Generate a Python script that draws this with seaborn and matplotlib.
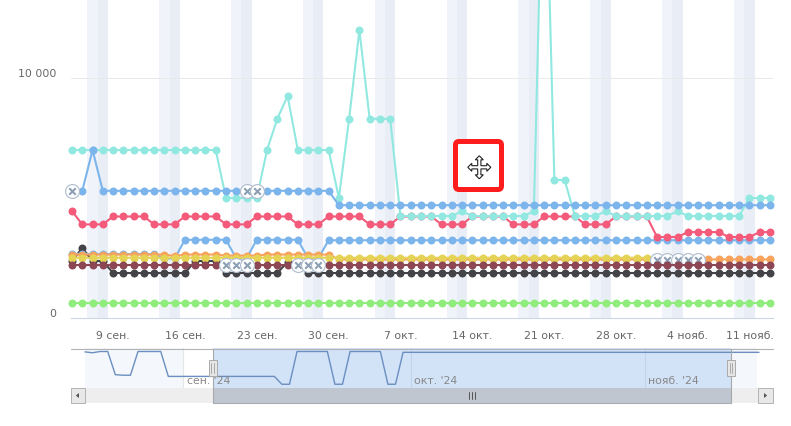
import numpy as np
import matplotlib
matplotlib.use("Agg")
import matplotlib.pyplot as plt
from matplotlib.patches import FancyBboxPatch, Polygon, Rectangle
from matplotlib.transforms import ScaledTranslation
import seaborn as sns

nan = float("nan")

# Daily values, 5 Sep (day 0) to 12 Nov (day 68)
teal = [7000, 7000, 7000, 7000, 7000, 7000, 7000, 7000, 7000, 7000, 7000, 7000, 7000, 7000, 7000,
        5000, 5000, 5000, 5000, 7000, 8300, 9250, 7000, 7000, 7000, 7000, 5000, 8300, 12000,
        8300, 8300, 8300, 4250, 4250, 4250, 4250, 4250, 4250, 4450, 4250, 4250, 4250, 4250, 4250, 4250,
        4450, 22000, 5750, 5750, 4250, 4250, 4250, 4450, 4250, 4250, 4250, 4250, 4250, 4250,
        4450, 4250, 4250, 4250, 4250, 4250, 4250, 5000, 5000, 5000]
blue_top = [5300, 5300, 7000, 5300, 5300, 5300, 5300, 5300, 5300, 5300, 5300, 5300, 5300, 5300, 5300,
            5300, 5300, 5300, 5300, 5300, 5300, 5300, 5300, 5300, 5300, 5300, 4700, 4700, 4700,
            4700, 4700, 4700, 4700, 4700, 4700, 4700, 4700, 4700, 4700, 4700, 4700, 4700, 4700, 4700, 4700,
            4700, 4700, 4700, 4700, 4700, 4700, 4700, 4700, 4700, 4700, 4700, 4700, 4700, 4700,
            4700, 4700, 4700, 4700, 4700, 4700, 4700, 4700, 4700, 4700]
red = [4450, 3900, 3900, 3900, 4230, 4230, 4230, 4230, 3900, 3900, 3900, 4230, 4230, 4230, 4230,
       3900, 3900, 3900, 4230, 4230, 4230, 4230, 3900, 3900, 3900, 4230, 4230, 4230, 4230,
       3900, 3900, 3900, 4230, 4230, 4230, 4230, 3900, 3900, 3900, 4230, 4230, 4230, 4230, 3900, 3900,
       3900, 4230, 4230, 4230, 4230, 3900, 3900, 3900, 4230, 4230, 4230, 4230, 3375, 3375,
       3375, 3580, 3580, 3580, 3580, 3375, 3375, 3375, 3580, 3580]
blue_mid = [2667, 2667, 2667, 2667, 2667, 2667, 2667, 2667, 2667, 2480, 2480, 3260, 3260, 3260, 3260,
            3260, 2480, 2480, 3260, 3260, 3260, 3260, 3260, 2480, 2480, 3240, 3240, 3240, 3240,
            3240, 3240, 3240, 3240, 3240, 3240, 3240, 3240, 3240, 3240, 3240, 3240, 3240, 3240, 3240, 3240,
            3240, 3240, 3240, 3240, 3240, 3240, 3240, 3240, 3240, 3240, 3240, 3240, 3240, 3240,
            3240, 3240, 3240, 3240, 3240, 3240, 3240, 3240, 3240, 3240]
orange = [2645, 2645, 2645, 2645, 2645, 2645, 2645, 2645, 2645, 2645, 2580, 2645, 2645, 2645, 2645,
          2600, 2600, 2600, 2600, 2645, 2645, 2645, 2645, 2645, 2645, 2645, 2440, 2440, 2440,
          2440, 2440, 2440, 2440, 2440, 2440, 2440, 2440, 2440, 2440, 2440, 2440, 2440, 2440, 2440, 2440,
          2440, 2440, 2440, 2440, 2440, 2440, 2440, 2440, 2440, 2440, 2440, 2440, 2440, 2440,
          2440, 2440, 2440, 2440, 2440, 2440, 2440, 2440, 2440, 2440]
yellow = [2510, 2510, 2510, 2510, 2510, 2510, 2510, 2510, 2510, 2510, 2510, 2510, 2510, 2510, 2510,
          2510, 2510, 2510, 2510, 2510, 2510, 2510, 2510, 2510, 2510, 2510, 2510, 2510, 2510,
          2510, 2510, 2510, 2510, 2510, 2510, 2510, 2510, 2510, 2510, 2510, 2510, 2510, 2510, 2510, 2510,
          2510, 2510, 2510, 2510, 2510, 2510, 2510, 2510, 2510, 2510, 2510, 2510, 2420, 2420,
          2420, 2420, 2420, nan, nan, nan, nan, nan, nan, nan]
maroon = [2210] * 69
dark = [2375, 2917, 2375, 2375, 1875, 1875, 1875, 1875, 1875, 1875, 1875, 1875, 2375, 2375, 2375,
        1875, 1875, 1875, 1875, 1875, 1875, 2333, 2333, 1875, 1875, 1875, 1875, 1875, 1875,
        1875, 1875, 1875, 1875, 1875, 1875, 1875, 1875, 1875, 1875, 1875, 1875, 1875, 1875, 1875, 1875,
        1875, 1875, 1875, 1875, 1875, 1875, 1875, 1875, 1875, 1875, 1875, 1875, 1875, 1875,
        1875, 1875, 1875, 1875, 1875, 1875, 1875, 1875, 1875, 1875]
green = [610] * 69

# Days carrying an annotated (crossed) point instead of a plain dot
flag_blue_top = [0, 17, 18]
flag_maroon = [15, 16, 17, 22, 23, 24]
flag_yellow = [57, 58, 59, 60, 61]

# Overview strip: the middle series with the days around the visible range
overview_before = [3250, 3230, 3260, 3260, 2708, 2695, 2695, 3260, 3260, 3260, 3260,
                   2667, 2667, 2667, 2667, 2667, 2667]
overview_after = [3240, 3240, 3240, 3240]

tick_days = [4, 11, 18, 25, 32, 39, 46, 53, 60, 67]
tick_labels = ["9 сен.", "16 сен.", "23 сен.", "30 сен.", "7 окт.", "14 окт.",
               "21 окт.", "28 окт.", "4 нояб.", "11 нояб."]
weekend_days = [2, 3, 9, 10, 16, 17, 23, 24, 30, 31, 37, 38, 44, 45, 51, 52, 58, 59, 65, 66]

W, H = 791, 427
TEXT = "#666666"
sns.set_style("white")
plt.rcParams["font.family"] = ["DejaVu Sans"]
plt.rcParams["font.size"] = 7.8

fig = plt.figure(figsize=(W / 100, H / 100), dpi=100)


def pixel_axes(x0, y0, x1, y1, **kw):
    return fig.add_axes([x0 / W, 1 - y1 / H, (x1 - x0) / W, (y1 - y0) / H], **kw)


# Main chart
ax = pixel_axes(71, 0, 773, 319)
days = np.arange(69)

for n, d in enumerate(weekend_days):
    ax.axvspan(d - 0.5, d + 0.5, color="#f0f3f9" if n % 2 == 0 else "#e9eef6", lw=0, zorder=0)
ax.axhline(10000, color="#e9e9e9", lw=0.7, zorder=0.5)

layers = [
    (dark, "#434348", []),
    (blue_mid, "#7cb5ec", []),
    (red, "#f45b7b", []),
    (teal, "#91e8e1", []),
    (blue_top, "#7cb5ec", flag_blue_top),
    (orange, "#f7a35c", []),
    (yellow, "#e4d354", flag_yellow),
    (maroon, "#8d4653", flag_maroon),
    (green, "#90ed7d", []),
]

for z, (values, colour, flagged) in enumerate(layers, start=1):
    y = np.array(values, dtype=float)
    sns.lineplot(x=days, y=y, color=colour, linewidth=1.5, ax=ax, zorder=z,
                 estimator=None, sort=False, legend=False)
    plain = np.ones(69, dtype=bool)
    plain[flagged] = False
    plain &= ~np.isnan(y)
    sns.scatterplot(x=days[plain], y=y[plain], color=colour, s=33, linewidth=0, ax=ax,
                    zorder=z + 0.2, clip_on=False, legend=False)
    for k, d in enumerate(flagged):
        sns.scatterplot(x=[d], y=[y[d]], color="white", edgecolor="#aebccd", s=100,
                        linewidth=0.8, ax=ax, zorder=z + 0.3 + k * 0.01, clip_on=False, legend=False)
        sns.scatterplot(x=[d], y=[y[d]], color="#8c9fb4", marker="x", s=22,
                        linewidth=1.5, ax=ax, zorder=z + 0.3 + k * 0.01 + 0.005, clip_on=False, legend=False)

ax.set_xlim(-0.1, 68.3)
ax.set_ylim(0, 13292)
ax.set_xlabel("")
ax.set_ylabel("")
ax.set_xticks(tick_days, tick_labels, color=TEXT)
ax.set_yticks([0, 10000], ["0", "10 000"], color=TEXT, va="bottom")
ax.tick_params(axis="x", length=7.2, width=0.7, color="#ccd6eb", pad=1.5)
ax.tick_params(axis="y", length=0, pad=10.8)
sns.despine(ax=ax, left=True)
ax.spines["bottom"].set_color("#ccd6eb")
ax.spines["bottom"].set_linewidth(0.8)
ax.patch.set_alpha(0)
last = ax.get_xticklabels()[-1]
last.set_transform(last.get_transform() + ScaledTranslation(-0.095, 0, fig.dpi_scale_trans))

# Overview strip under the chart
nav = pixel_axes(71, 349, 773, 389)
nav_y = overview_before + blue_mid + overview_after
nav_x = np.arange(-17, 72 + 1)[:len(nav_y)]
nav.axvspan(-17, -4, color="#f4f7fb", lw=0, zorder=0)
nav.axvspan(68.3, 71.8, color="#f4f7fb", lw=0, zorder=0)
nav.axvspan(-0.1, 68.3, color="#d2e2f7", lw=0, zorder=0.5)
for month_start, c in [(-4, "#e6e6e6"), (26, "#c3d4ea"), (57, "#c3d4ea")]:
    nav.axvline(month_start, color=c, lw=0.8, zorder=0.6)
sns.lineplot(x=nav_x, y=nav_y, color="#6a8fc0", linewidth=1.0, ax=nav, zorder=2,
             estimator=None, sort=False, legend=False)
nav.set_xlim(-18.85, 73.85)
nav.set_ylim(2391, 3343)
nav.set_xlabel("")
nav.set_ylabel("")
nav.set_xticks([])
nav.set_yticks([])
for s in nav.spines.values():
    s.set_visible(False)
nav.patch.set_alpha(0)

# Scrollbar, handles and the move cursor, in pixel coordinates
ov = pixel_axes(0, 0, W, H, zorder=20)
ov.set_xlim(0, W)
ov.set_ylim(H, 0)
ov.axis("off")
ov.patch.set_alpha(0)


def rect(x0, y0, x1, y1, fc, ec="none", lw=0.0, z=1):
    ov.add_patch(Rectangle((x0, y0), x1 - x0, y1 - y0, fc=fc, ec=ec, lw=lw, zorder=z))


for label, x in [("сен. '24", 187), ("окт. '24", 414), ("нояб. '24", 648)]:
    ov.text(x, 381, label, color="#888888", fontsize=7.8, va="center", ha="left", zorder=1)

ov.plot([71, 773], [349.5, 349.5], color="#b3b3b3", lw=0.8, zorder=2)
rect(85, 389, 758, 404, "#eeeeee")
rect(213, 389, 731, 404, "#bfc6d0", z=2)
ov.plot([213, 213], [349.5, 404], color="#a9a9a9", lw=0.8, zorder=3)
ov.plot([731, 731], [349.5, 404], color="#a9a9a9", lw=0.8, zorder=3)
ov.plot([213, 731], [404, 404], color="#a9aeb6", lw=0.8, zorder=3)
for x0, x1 in [(71, 85), (758, 773)]:
    rect(x0, 389, x1, 404, "#e8e8e8", "#b3b3b3", 0.7, 3)
ov.add_patch(Polygon([[79, 394], [79, 399], [75.8, 396.5]], fc="#555555", ec="none", zorder=4))
ov.add_patch(Polygon([[764, 394], [764, 399], [767.2, 396.5]], fc="#555555", ec="none", zorder=4))
for x in (469, 472, 475):
    ov.plot([x, x], [393, 399.5], color="#555555", lw=0.7, zorder=4)
for x0, x1 in [(208.5, 216.5), (727, 735)]:
    rect(x0, 361, x1, 377, "#e6e6e6", "#aaaaaa", 0.7, 5)
    mid = (x0 + x1) / 2
    for x in (mid - 1.2, mid + 1.2):
        ov.plot([x, x], [364, 374], color="#a0a0a0", lw=0.6, zorder=6)

ov.add_patch(FancyBboxPatch((455.5, 142.5), 46, 48, boxstyle="round,pad=0,rounding_size=3.5",
                            fc="white", ec="#ff1c1c", lw=3.6, zorder=7))
cx, cy = 479.3, 168.3
arrows = [(0, -11.5), (4, -7.5), (1.6, -7.5), (1.6, -1.6), (7.5, -1.6), (7.5, -4), (11.5, 0),
          (7.5, 4), (7.5, 1.6), (1.6, 1.6), (1.6, 7.5), (4, 7.5), (0, 11.5), (-4, 7.5),
          (-1.6, 7.5), (-1.6, 1.6), (-7.5, 1.6), (-7.5, 4), (-11.5, 0), (-7.5, -4),
          (-7.5, -1.6), (-1.6, -1.6), (-1.6, -7.5), (-4, -7.5)]
ov.add_patch(Polygon([(cx + a, cy + b) for a, b in arrows], fc="white", ec="#222222", lw=0.8, zorder=8))

fig.savefig("out.png", dpi=100)
